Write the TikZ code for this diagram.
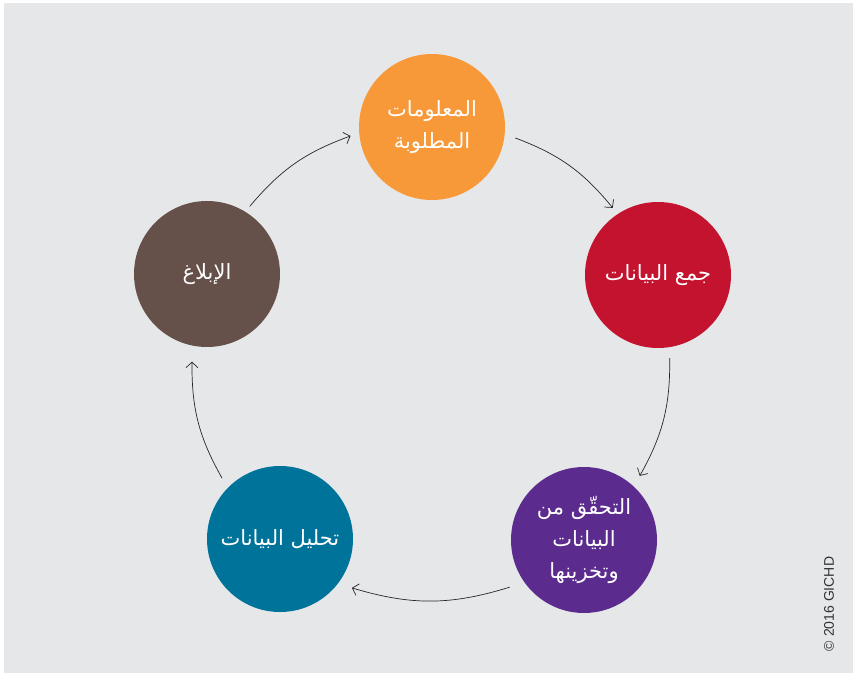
\documentclass[tikz,border=0pt]{standalone}
\usepackage{fontspec}
\setmainfont{Liberation Sans}
\newfontfamily\arabicfont[Script=Arabic]{DejaVu Sans}
\TeXXeTstate=1
\usetikzlibrary{arrows.meta}
\definecolor{panelgray}{HTML}{E6E7E8}
\definecolor{stageorange}{HTML}{F79938}
\definecolor{stagered}{HTML}{C3132F}
\definecolor{stagepurple}{HTML}{5B2C8E}
\definecolor{stageteal}{HTML}{00739A}
\definecolor{stagebrown}{HTML}{65504A}
\NewDocumentCommand{\ArLine}{m}{\beginR #1\endR}
\tikzset{
    stage/.style={circle, fill=#1, minimum size=146pt, inner sep=0pt,
        text=white, align=center,
        font=\arabicfont\fontsize{21}{32}\selectfont},
    flow/.style={-{Straight Barb[length=5.5pt,width=12pt]}, line width=0.7pt, black!85},
}

\begin{document}
\begin{tikzpicture}[
    x={(1pt,0pt)}, y={(0pt,1pt)}% one unit per pixel, y counts down as negative
    ]

    \useasboundingbox (0,0) rectangle (857,-676);
    \fill[white] (0,0) rectangle (857,-676);
    \fill[panelgray] (4,-3) rectangle (853,-673);

    \node[stage=stageorange] (info) at (432,-127) {\ArLine{المعلومات}\\\ArLine{المطلوبة}};
    \node[stage=stagered] (collect) at (658,-275) {\ArLine{جمع البيانات}};
    \node[stage=stagepurple] (verify) at (584,-540) {\ArLine{التحقّق من}\\\ArLine{البيانات}\\\ArLine{وتخزينها}};
    \node[stage=stageteal] (analyse) at (280,-539) {\ArLine{تحليل البيانات}};
    \node[stage=stagebrown] (report) at (207,-274) {\ArLine{الإبلاغ}};

    \draw[flow] ([shift=(-7.5:84)]info.center) to[bend left=15] ([shift=(124:81)]collect.center);
    \draw[flow] ([shift=(-82:84)]collect.center) to[bend left=15] ([shift=(49:85)]verify.center);
    \draw[flow] ([shift=(-147.6:88)]verify.center) to[bend left=17] ([shift=(-34.2:87)]analyse.center);
    \draw[flow] ([shift=(133.6:84)]analyse.center) to[bend left=15] ([shift=(-99.7:89)]report.center);
    \draw[flow] ([shift=(57.7:80)]report.center) to[bend left=15] ([shift=(-173.7:82)]info.center);

    \node[rotate=90, text=black!80, font=\fontsize{14}{16}\selectfont] (credit) at (829,-604) {\textcopyright{} 2016 GICHD};

\end{tikzpicture}
\end{document}
